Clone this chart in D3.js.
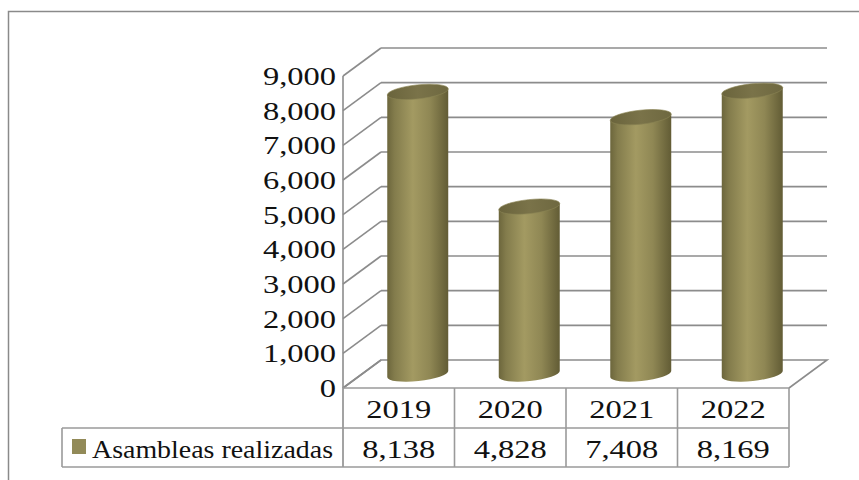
<!DOCTYPE html>
<html>
<head>
<meta charset="utf-8">
<script src="https://cdn.jsdelivr.net/npm/d3@7"></script>
<style>
    body { margin: 0; background: #fff; }
    svg text { font-family: "Liberation Serif", "DejaVu Serif", serif; fill: #111; }
</style>
</head>
<body>
<div id="chart"></div>
<script>
// chart data
const years = ["2019", "2020", "2021", "2022"];
const asambleas = [8138, 4828, 7408, 8169];
const seriesName = "Asambleas realizadas";
const yTicks = [0, 1000, 2000, 3000, 4000, 5000, 6000, 7000, 8000, 9000];

const W = 859, H = 480;
const depth = { dx: 38, dy: -28 };   // oblique offset of the back wall
const textScaleX = 1.25;              // source digits are wide
const fontSize = "26px";
const fmt = d3.format(",");

let svg = d3.select("#chart").append("svg")
    .attr("width", W)
    .attr("height", H);

// outer frame (only top + left visible in the source)
svg.append("path")
    .attr("d", `M8.5,${H} L8.5,11.5 L${W},11.5`)
    .attr("fill", "none")
    .attr("stroke", "#8a8a8a")
    .attr("stroke-width", 1.5);

// scales on the front plane
let x = d3.scaleBand().domain(years).range([343, 789]).padding(0);
let y = d3.scaleLinear().domain([0, 9000]).range([388, 76]);

const left = x.range()[0], right = x.range()[1];
const gridColor = "#8c8c8c";

// gradients
let defs = svg.append("defs");
let bodyGrad = defs.append("linearGradient").attr("id", "cylBody");
[["0%", "#6c663c"], ["12%", "#837c4c"], ["42%", "#a39a62"], ["70%", "#8f8754"], ["100%", "#625c35"]]
    .forEach(s => bodyGrad.append("stop").attr("offset", s[0]).attr("stop-color", s[1]));
let topGrad = defs.append("linearGradient").attr("id", "cylTop");
[["0%", "#6a643c"], ["50%", "#7a7349"], ["100%", "#6e6840"]]
    .forEach(s => topGrad.append("stop").attr("offset", s[0]).attr("stop-color", s[1]));

// walls & grid
let grid = svg.append("g").attr("class", "grid")
    .attr("fill", "none")
    .attr("stroke", gridColor)
    .attr("stroke-width", 1.6);

// floor
grid.append("path")
    .attr("d", `M${left},${y(0)} L${left + depth.dx},${y(0) + depth.dy} L${right + depth.dx},${y(0) + depth.dy} L${right},${y(0)}`);

yTicks.forEach(t => {
    // side wall diagonal
    grid.append("line")
        .attr("x1", left).attr("y1", y(t))
        .attr("x2", left + depth.dx).attr("y2", y(t) + depth.dy);
    // back wall line
    if (t > 0) {
        grid.append("line")
            .attr("x1", left + depth.dx).attr("y1", y(t) + depth.dy)
            .attr("x2", right + depth.dx).attr("y2", y(t) + depth.dy);
    }
});

// front vertical edge of side wall, down through the table
grid.append("line")
    .attr("x1", left).attr("y1", y(9000))
    .attr("x2", left).attr("y2", 467);

// y tick labels
svg.append("g").selectAll("text")
    .data(yTicks)
    .enter().append("text")
    .attr("transform", d => `translate(336, ${y(d) + 9}) scale(${textScaleX},1)`)
    .attr("text-anchor", "end")
    .style("font-size", fontSize)
    .text(d => fmt(d));

// cylinders
const rx = x.bandwidth() * 0.275;
const ry = 7;
const rot = -6;
const th = rot * Math.PI / 180;

function cylinderPath(cx, yTop, yBot) {
    let ox = rx * Math.cos(th), oy = rx * Math.sin(th);
    return `M${cx - ox},${yTop - oy} L${cx - ox},${yBot - oy}` +
        ` A${rx},${ry} ${rot} 0 0 ${cx + ox},${yBot + oy}` +
        ` L${cx + ox},${yTop + oy} Z`;
}

let bars = svg.append("g").attr("class", "bars")
    .selectAll("g")
    .data(years.map((yr, i) => ({ year: yr, value: asambleas[i] })))
    .enter().append("g");

bars.append("path")
    .attr("d", d => {
        let cx = x(d.year) + x.bandwidth() / 2 + depth.dx / 2;
        return cylinderPath(cx, y(d.value) + depth.dy / 2, y(0) + depth.dy / 2);
    })
    .attr("fill", "url(#cylBody)");

bars.append("ellipse")
    .attr("cx", 0).attr("cy", 0)
    .attr("rx", rx).attr("ry", ry)
    .attr("transform", d => {
        let cx = x(d.year) + x.bandwidth() / 2 + depth.dx / 2;
        return `translate(${cx}, ${y(d.value) + depth.dy / 2}) rotate(${rot})`;
    })
    .attr("fill", "url(#cylTop)")
    .attr("stroke", "#8a8354")
    .attr("stroke-width", 0.6);

// data table
const tTop = 388, tMid = 428, tBot = 467, legLeft = 62;
let table = svg.append("g").attr("class", "table")
    .attr("fill", "none")
    .attr("stroke", "#9a9a9a")
    .attr("stroke-width", 1.6);

table.append("line").attr("x1", left).attr("x2", right).attr("y1", tTop).attr("y2", tTop);
table.append("line").attr("x1", legLeft).attr("x2", right).attr("y1", tMid).attr("y2", tMid);
table.append("line").attr("x1", legLeft).attr("x2", right).attr("y1", tBot).attr("y2", tBot);
table.append("line").attr("x1", legLeft).attr("x2", legLeft).attr("y1", tMid).attr("y2", tBot);
years.forEach(yr => {
    table.append("line")
        .attr("x1", x(yr) + x.bandwidth()).attr("x2", x(yr) + x.bandwidth())
        .attr("y1", tTop).attr("y2", tBot);
});

svg.append("g").selectAll("text")
    .data(years)
    .enter().append("text")
    .attr("transform", d => `translate(${x(d) + x.bandwidth() / 2}, ${tTop + 30}) scale(${textScaleX},1)`)
    .attr("text-anchor", "middle")
    .style("font-size", fontSize)
    .text(d => d);

svg.append("g").selectAll("text")
    .data(asambleas)
    .enter().append("text")
    .attr("transform", (d, i) => `translate(${x(years[i]) + x.bandwidth() / 2}, ${tMid + 30}) scale(${textScaleX},1)`)
    .attr("text-anchor", "middle")
    .style("font-size", fontSize)
    .text(d => fmt(d));

// legend key inside the table
svg.append("rect")
    .attr("x", 72).attr("y", 439)
    .attr("width", 14).attr("height", 15)
    .attr("fill", "#928a58");

svg.append("text")
    .attr("x", 92).attr("y", tMid + 30)
    .attr("textLength", 241)
    .attr("lengthAdjust", "spacingAndGlyphs")
    .style("font-size", fontSize)
    .text(seriesName);
</script>
</body>
</html>
